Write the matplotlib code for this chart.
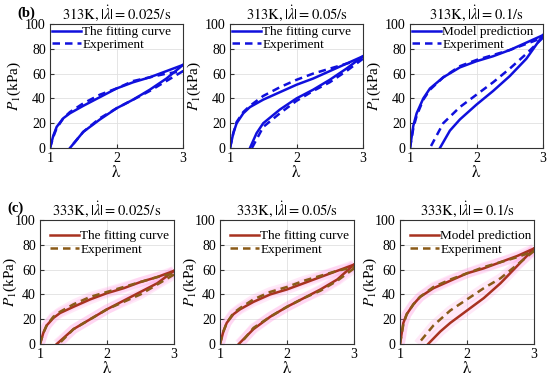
import matplotlib
matplotlib.use('Agg')
import matplotlib.pyplot as plt

plt.rcParams['font.family'] = ['Liberation Serif', 'DejaVu Serif']
plt.rcParams['mathtext.fontset'] = 'stix'

# each curve: loading 1 -> 3 then unloading 3 -> lambda0
lam_load = [1, 1.05, 1.1, 1.2, 1.3, 1.5, 1.75, 2, 2.25, 2.5, 2.75, 3]

# (b) 313K
b1_fit_load = [0, 10, 17, 24, 28, 34, 41, 48, 53, 57, 62, 67]
b1_exp_load = [0, 9, 16, 24, 29, 36, 43, 48, 54, 57, 60, 62]
b1_fit_un_lam = [3, 2.75, 2.5, 2.25, 2, 1.75, 1.5, 1.3]
b1_fit_un = [67, 56, 47, 39, 32, 23, 13, 0]
b1_exp_un_lam = [3, 2.75, 2.5, 2.25, 2, 1.75, 1.5, 1.3]
b1_exp_un = [62, 54, 46, 39, 32, 24, 13, 0]

b2_fit_load = [0, 12, 20, 28, 33, 39, 45, 51, 56, 62, 68, 74]
b2_exp_load = [0, 12, 21, 29, 34, 42, 49, 55, 60, 64, 68, 72]
b2_fit_un_lam = [3, 2.75, 2.5, 2.25, 2, 1.75, 1.5, 1.4, 1.3]
b2_fit_un = [74, 64, 55, 47, 40, 31, 20, 12, 0]
b2_exp_un_lam = [3, 2.75, 2.5, 2.25, 2, 1.75, 1.5, 1.33]
b2_exp_un = [72, 62, 53, 46, 38, 28, 17, 0]

b3_fit_load = [0, 18, 28, 40, 48, 57, 65, 70, 74, 79, 85, 91]
b3_exp_load = [0, 16, 26, 39, 47, 57, 66, 71, 75, 79, 84, 89]
b3_fit_un_lam = [3, 2.75, 2.5, 2.25, 2, 1.75, 1.6, 1.45]
b3_fit_un = [91, 72, 58, 46, 35, 23, 14, 0]
b3_exp_un_lam = [3, 2.75, 2.5, 2.25, 2, 1.75, 1.5, 1.3]
b3_exp_un = [89, 76, 64, 53, 43, 33, 20, 0]

# (c) 333K
c1_fit_load = [0, 9, 15, 21, 25, 30, 36, 41, 45, 50, 54, 59]
c1_exp_load = [0, 9, 15, 22, 26, 32, 38, 42, 46, 50, 54, 57]
c1_fit_un_lam = [3, 2.75, 2.5, 2.25, 2, 1.75, 1.5, 1.25]
c1_fit_un = [59, 49, 42, 35, 28, 20, 12, 0]
c1_exp_un_lam = [3, 2.75, 2.5, 2.25, 2, 1.75, 1.5, 1.28]
c1_exp_un = [56, 48, 40, 34, 28, 20, 12, 0]

c2_fit_load = [0, 10, 17, 24, 28, 34, 40, 44, 49, 54, 59, 64]
c2_exp_load = [0, 10, 17, 25, 29, 36, 42, 46, 51, 55, 59, 62]
c2_fit_un_lam = [3, 2.75, 2.5, 2.25, 2, 1.75, 1.5, 1.28]
c2_fit_un = [64, 52, 44, 37, 30, 22, 12, 0]
c2_exp_un_lam = [3, 2.75, 2.5, 2.25, 2, 1.75, 1.5, 1.3]
c2_exp_un = [61, 51, 43, 37, 30, 22, 13, 0]

c3_fit_load = [0, 17, 24, 32, 38, 45, 51, 57, 61, 66, 71, 77]
c3_exp_load = [0, 16, 24, 32, 38, 46, 52, 57, 62, 66, 70, 75]
c3_fit_un_lam = [3, 2.75, 2.5, 2.25, 2, 1.75, 1.6, 1.42]
c3_fit_un = [77, 63, 49, 37, 27, 17, 10, 0]
c3_exp_un_lam = [3, 2.75, 2.5, 2.25, 2, 1.75, 1.5, 1.27]
c3_exp_un = [75, 64, 53, 45, 36, 27, 15, 0]

rates = ['0.025', '0.05', '0.1']
leg_fit = ['The fitting curve', 'The fitting curve', 'Model prediction']

row_b = [
    (b1_fit_load, b1_exp_load, b1_fit_un_lam, b1_fit_un, b1_exp_un_lam, b1_exp_un),
    (b2_fit_load, b2_exp_load, b2_fit_un_lam, b2_fit_un, b2_exp_un_lam, b2_exp_un),
    (b3_fit_load, b3_exp_load, b3_fit_un_lam, b3_fit_un, b3_exp_un_lam, b3_exp_un),
]
row_c = [
    (c1_fit_load, c1_exp_load, c1_fit_un_lam, c1_fit_un, c1_exp_un_lam, c1_exp_un),
    (c2_fit_load, c2_exp_load, c2_fit_un_lam, c2_fit_un, c2_exp_un_lam, c2_exp_un),
    (c3_fit_load, c3_exp_load, c3_fit_un_lam, c3_fit_un, c3_exp_un_lam, c3_exp_un),
]

fig = plt.figure(figsize=(5.5, 3.78), dpi=100)
W, H = 550.0, 378.0


def setup(ax, title, ylab_x):
    ax.set_xlim(1, 3)
    ax.set_ylim(0, 100)
    ax.set_xticks([1, 2, 3])
    ax.set_yticks([0, 20, 40, 60, 80, 100])
    ax.grid(True, color='#e0e0e0', lw=0.6)
    ax.set_axisbelow(True)
    ax.tick_params(direction='in', labelsize=10, length=3, color='#333333', pad=3)
    for s in ax.spines.values():
        s.set_color('#333333')
        s.set_linewidth(0.8)
    ax.set_xlabel(r'$\mathrm{\lambda}$', fontsize=12, labelpad=0)
    ax.set_ylabel(r'$P_1$(kPa)', fontsize=11)
    ax.yaxis.set_label_coords(ylab_x, 0.5)
    ax.set_title(title, fontsize=10.5, pad=4)


def draw(ax, d, c_fit, c_exp, label, pink):
    fl, el, ful, fu, eul, eu = d
    if pink:
        for x, y in [(lam_load, fl), (ful, fu), (lam_load, el), (eul, eu)]:
            ax.plot(x, y, color='#ff88dd', lw=7, alpha=0.18, solid_capstyle='butt')
    ax.plot(lam_load, fl, color=c_fit, lw=1.8, label=label)
    ax.plot(ful, fu, color=c_fit, lw=1.8)
    ax.plot(lam_load, el, color=c_exp, lw=1.8, ls=(0, (3, 2)), label='Experiment')
    ax.plot(eul, eu, color=c_exp, lw=1.8, ls=(0, (3, 2)))


lefts_b = [50, 230, 410]
lefts_c = [40, 220, 400]
for i in range(3):
    ax = fig.add_axes([lefts_b[i] / W, 1 - 148 / H, 133 / W, 124 / H])
    setup(ax, r'$\mathrm{313K,}|\dot{\lambda}| = \mathrm{' + rates[i] + '/s}$', -0.2)
    draw(ax, row_b[i], '#1010dd', '#1010dd', leg_fit[i], False)
    ax.legend(loc='upper left', frameon=False, fontsize=9.5, handlelength=2.2,
              handletextpad=0.1, borderaxespad=0.0, borderpad=0.15, labelspacing=0.05)

for i in range(3):
    ax = fig.add_axes([lefts_c[i] / W, 1 - 344 / H, 134 / W, 124 / H])
    setup(ax, r'$\mathrm{333K,}|\dot{\lambda}| = \mathrm{' + rates[i] + '/s}$', -0.16)
    draw(ax, row_c[i], '#a83220', '#8a5a18', leg_fit[i], True)
    ax.legend(loc='upper left', frameon=False, fontsize=9.5, handlelength=2.2,
              handletextpad=0.1, borderaxespad=0.45, borderpad=0.3, labelspacing=0.1)

fig.text(17 / W, 1 - 17 / H, '(b)', fontsize=10.5, fontweight='bold')
fig.text(7 / W, 1 - 212 / H, '(c)', fontsize=10.5, fontweight='bold')

fig.savefig('out.png', dpi=100)
